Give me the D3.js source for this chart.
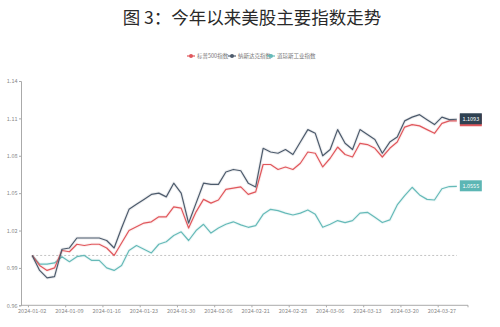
<!DOCTYPE html>
<html><head><meta charset="utf-8">
<script src="https://cdn.jsdelivr.net/npm/d3@7"></script>
<style>body{margin:0;background:#fff}svg{display:block}</style>
</head><body><svg id="c" width="500" height="327"></svg>
<script>
const title = "图 3：今年以来美股主要指数走势";
const seriesNames = ["标普500指数", "纳斯达克指数", "道琼斯工业指数"];
const colors = ["#e0575c", "#4d5b6c", "#66bab8"];
const tickLabels = ["2024-01-02","2024-01-09","2024-01-16","2024-01-23","2024-01-30","2024-02-06","2024-02-21","2024-02-28","2024-03-06","2024-03-13","2024-03-20","2024-03-27"];
const yTicks = [0.96, 0.99, 1.02, 1.05, 1.08, 1.11, 1.14];
const sp500 = [1.000,0.992,0.988,0.990,1.004,1.003,1.009,1.008,1.009,1.009,1.006,1.000,1.010,1.020,1.023,1.026,1.027,1.031,1.031,1.039,1.038,1.022,1.035,1.045,1.042,1.0445,1.053,1.054,1.055,1.049,1.051,1.073,1.073,1.069,1.071,1.069,1.074,1.083,1.082,1.071,1.078,1.087,1.081,1.079,1.090,1.089,1.086,1.079,1.086,1.091,1.103,1.105,1.104,1.101,1.098,1.106,1.108,1.108];
const nasdaq = [1.000,0.988,0.982,0.983,1.005,1.006,1.014,1.014,1.014,1.014,1.012,1.006,1.022,1.037,1.041,1.045,1.049,1.050,1.047,1.058,1.050,1.026,1.042,1.058,1.057,1.057,1.067,1.069,1.068,1.058,1.055,1.086,1.083,1.082,1.085,1.081,1.091,1.101,1.098,1.080,1.085,1.101,1.090,1.085,1.101,1.097,1.093,1.082,1.091,1.095,1.108,1.111,1.113,1.109,1.105,1.111,1.109,1.1093];
const dow = [1.000,0.993,0.993,0.994,0.999,0.995,0.999,1.000,0.996,0.996,0.990,0.988,0.992,1.004,1.008,1.005,1.002,1.009,1.011,1.016,1.019,1.012,1.020,1.025,1.018,1.022,1.025,1.027,1.0245,1.0226,1.024,1.033,1.037,1.036,1.034,1.0325,1.034,1.0365,1.033,1.0226,1.025,1.028,1.0264,1.028,1.034,1.0346,1.0306,1.0264,1.0285,1.0405,1.048,1.0547,1.0486,1.045,1.0445,1.0535,1.0553,1.0555];
const baseline = 1.0;
const endLabels = ["1.1093", "1.0555"];

const svg = d3.select("#c");
const font = "'Noto Sans CJK SC','Noto Sans',sans-serif";
const nCat = sp500.length + 2; // empty band at each end
const x = d3.scaleBand().domain(d3.range(nCat)).range([21, 468]).paddingInner(0).paddingOuter(0);
const cx = i => x(i + 1) + x.bandwidth() / 2;
const y = d3.scaleLinear().domain([0.96, 1.14]).range([305.3, 81]);

svg.append("text").attr("x", 252).attr("y", 24).attr("text-anchor", "middle")
  .attr("font-family", "'Noto Sans CJK SC',sans-serif").attr("font-size", 17.5).attr("font-weight", 400)
  .attr("fill", "#2a2a2a").text(title);

// legend
const legX = [187, 228, 267];
seriesNames.forEach((n, i) => {
  const g = svg.append("g").attr("transform", `translate(${legX[i]},56)`);
  g.append("line").attr("x1", 0).attr("x2", 8).attr("stroke", colors[i]).attr("stroke-width", 1.2);
  g.append("circle").attr("cx", 4).attr("r", 2).attr("fill", colors[i]);
  g.append("text").attr("x", 10).attr("y", 2).attr("font-size", 5.5).attr("font-family", font).attr("fill", "#777").text(n);
});

// axes
const yAxis = d3.axisLeft(y).tickValues(yTicks).tickSize(2).tickFormat(d3.format(".2f"));
const gy = svg.append("g").attr("transform", "translate(21,0)").call(yAxis);
gy.select(".domain").attr("stroke", "#aaa");
gy.selectAll(".tick line").attr("stroke", "#aaa");
gy.selectAll(".tick text").attr("font-size", 5.5).attr("font-family", font).attr("fill", "#888").attr("x", -3.5);

const tickIdx = tickLabels.map((_, j) => 1 + 5 * j);
const gx = svg.append("g").attr("transform", "translate(0,305.3)");
gx.append("line").attr("x1", 21).attr("x2", 468).attr("stroke", "#aaa");
tickIdx.forEach((k, j) => {
  gx.append("line").attr("x1", x(k)).attr("x2", x(k)).attr("y1", 0).attr("y2", 2).attr("stroke", "#aaa");
  gx.append("text").attr("x", x(k) + x.bandwidth() / 2).attr("y", 8).attr("text-anchor", "middle")
    .attr("font-size", 5.5).attr("font-family", font).attr("fill", "#888").text(tickLabels[j]);
});
gx.append("line").attr("x1", 468).attr("x2", 468).attr("y1", 0).attr("y2", 2).attr("stroke", "#aaa");

// baseline
svg.append("line").attr("x1", cx(0)).attr("x2", cx(sp500.length - 1)).attr("y1", y(baseline)).attr("y2", y(baseline))
  .attr("stroke", "#aaa").attr("stroke-width", 0.7).attr("stroke-dasharray", "2,2");

const line = d3.line().x((d, i) => cx(i)).y(d => y(d));
const data = [dow, sp500, nasdaq];
const cols = [colors[2], colors[0], colors[1]];
data.forEach((s, i) => {
  svg.append("path").datum(s).attr("d", line).attr("fill", "none").attr("stroke", cols[i])
    .attr("stroke-width", 3.2).attr("stroke-opacity", 0.1).attr("stroke-linejoin", "round");
  svg.append("path").datum(s).attr("d", line).attr("fill", "none").attr("stroke", cols[i])
    .attr("stroke-width", 1.2).attr("stroke-linejoin", "round");
});

// end labels
const lx = cx(sp500.length - 1) + 3;
function endLabel(v, fill, txt, under) {
  const yy = y(v);
  if (under) svg.append("rect").attr("x", lx).attr("y", yy - 5).attr("width", 22).attr("height", 12).attr("fill", under);
  svg.append("rect").attr("x", lx).attr("y", yy - 6).attr("width", 22).attr("height", 11).attr("fill", fill);
  svg.append("text").attr("x", lx + 11).attr("y", yy + 1.8).attr("text-anchor", "middle").attr("font-size", 5.5)
    .attr("font-family", font).attr("fill", "#fff").text(txt);
}
endLabel(nasdaq[nasdaq.length - 1], "#2f4252", endLabels[0], colors[0]);
endLabel(dow[dow.length - 1], "#5cb6b4", endLabels[1]);
</script></body></html>
